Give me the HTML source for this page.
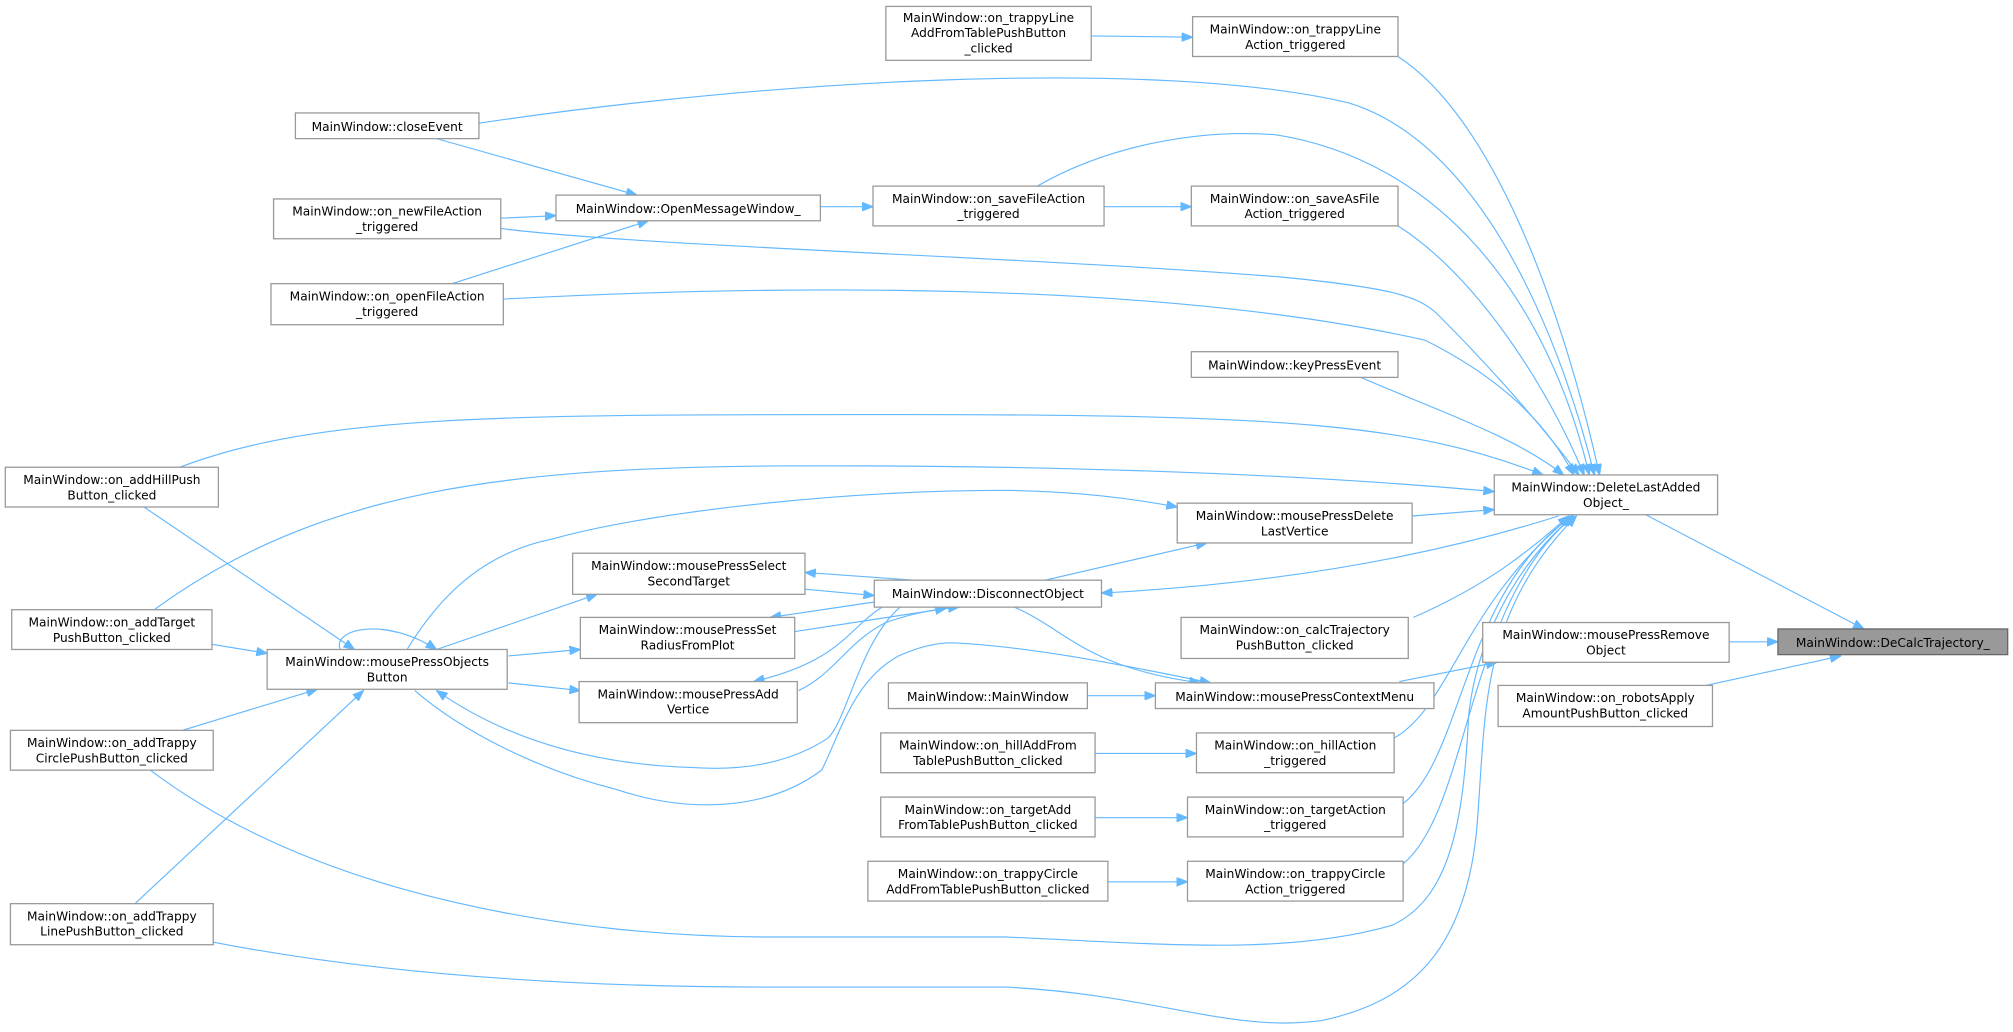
<!DOCTYPE html>
<html><head><meta charset="utf-8"><style>
html,body{margin:0;padding:0;background:#fff;}
svg{display:block;}
text{font-family:"DejaVu Sans","Liberation Sans",sans-serif;font-size:9.5px;fill:#000;text-anchor:middle;}
rect{fill:#fff;stroke:#999;stroke-width:1;}
path{fill:none;stroke:#63b8ff;stroke-width:0.9;}
</style></head><body>
<svg width="2013" height="1032" viewBox="0 0 1568 804" xmlns="http://www.w3.org/2000/svg">
<defs>
<marker id="a" markerWidth="9" markerHeight="7" refX="8.5" refY="3.5" orient="auto" markerUnits="userSpaceOnUse">
<path d="M0,0 L9,3.5 L0,7 Z" style="fill:#63b8ff;stroke:#63b8ff;stroke-width:0.5"/>
</marker>
</defs>
<g marker-end="url(#a)">
<path d="M1089,44 C1160,90 1215,230 1246,370"/>
<path d="M373,96 C600,62 900,45 1050,80 C1150,110 1212,250 1242,370"/>
<path d="M808,145 C860,115 930,100 994,105 C1120,125 1205,230 1238,370"/>
<path d="M1089,176 C1150,215 1205,300 1234,370"/>
<path d="M390,178 C500,192 800,200 1000,216 C1080,224 1105,230 1120,245 C1160,285 1200,330 1230,370"/>
<path d="M392,233 C600,222 900,218 1110,265 C1170,295 1205,330 1226,370"/>
<path d="M1060,294 C1120,320 1180,340 1218,370"/>
<path d="M140,364 C250,322 400,323 700,323 C1000,323 1100,330 1202,370"/>
<path d="M120,475 C250,380 400,365 600,363 C800,362 1000,368 1164,383"/>
<path d="M1100,402 L1164,397"/>
<path d="M1101,481 C1160,455 1190,430 1222,402"/>
<path d="M1086,575 C1130,550 1140,470 1224,402"/>
<path d="M1093,626 C1140,590 1140,460 1225,402"/>
<path d="M1093,673 C1145,630 1142,470 1226,402"/>
<path d="M117,600 C250,700 450,730 600,730 L784,730 C900,735 1000,745 1084,721 C1130,700 1140,640 1144,558 C1150,500 1180,440 1226,402"/>
<path d="M166,734 C300,760 450,769 600,769 L784,769 C900,775 960,805 1030,795 C1100,780 1140,740 1150,650 C1158,560 1150,480 1228,402"/>
<path d="M1282,401 L1452,490"/>
<path d="M1347,500 L1385,500"/>
<path d="M1329,534 L1434,511"/>
<path d="M1090,531 L1166,516"/>
<path d="M1214,402 C1110,435 990,455 858,462"/>
<path d="M814,452 L940,423"/>
<path d="M712,452 L627,446"/>
<path d="M627,459 L681,464"/>
<path d="M681,469 L600,481"/>
<path d="M619,492 L737,474"/>
<path d="M687,473 C660,490 655,515 587,531"/>
<path d="M622,538 C650,525 660,500 690,485 C710,478 725,475 747,473"/>
<path d="M701,473 C670,500 660,560 645,575 C610,598 570,600 540,598 C470,596 400,580 340,538"/>
<path d="M323,538 C360,570 420,600 480,615 C540,635 600,630 640,600 C655,570 665,530 700,511 C720,502 735,500 746,501 C800,504 860,515 943,532"/>
<path d="M790,473 C830,490 845,520 935,532"/>
<path d="M112,395 L276,506"/>
<path d="M165,502 L208,509"/>
<path d="M142,569 L247,537"/>
<path d="M105,704 L283,538"/>
<path d="M265,506 C258,490 300,480 340,506"/>
<path d="M340,506 L465,463"/>
<path d="M396,511 L452,506"/>
<path d="M396,532 L452,538"/>
<path d="M317,506 C345,460 380,430 430,420 C500,400 650,382 784,382 C840,383 880,388 917,395"/>
<path d="M340,108 L496,152"/>
<path d="M390,170 L433,168"/>
<path d="M352,221 L505,172"/>
<path d="M639,161 L680,161"/>
<path d="M860,161 L928,161"/>
<path d="M850,28 L929,29"/>
<path d="M847,542 L900,542"/>
<path d="M853,587 L932,587"/>
<path d="M853,637 L925,637"/>
<path d="M863,687 L925,687"/>
</g>
<rect x="690" y="5" width="160" height="42"/><text x="770" y="17">MainWindow::on_trappyLine</text><text x="770" y="29">AddFromTablePushButton</text><text x="770" y="41">_clicked</text>
<rect x="929" y="13" width="160" height="31"/><text x="1009" y="26">MainWindow::on_trappyLine</text><text x="1009" y="38">Action_triggered</text>
<rect x="230" y="88" width="143" height="20"/><text x="301.5" y="102">MainWindow::closeEvent</text>
<rect x="433" y="152" width="206" height="20"/><text x="536" y="166">MainWindow::OpenMessageWindow_</text>
<rect x="213" y="155" width="177" height="31"/><text x="301.5" y="168">MainWindow::on_newFileAction</text><text x="301.5" y="180">_triggered</text>
<rect x="680" y="145" width="180" height="31"/><text x="770" y="158">MainWindow::on_saveFileAction</text><text x="770" y="170">_triggered</text>
<rect x="928" y="145" width="161" height="31"/><text x="1008.5" y="158">MainWindow::on_saveAsFile</text><text x="1008.5" y="170">Action_triggered</text>
<rect x="211" y="221" width="181" height="32"/><text x="301.5" y="234">MainWindow::on_openFileAction</text><text x="301.5" y="246">_triggered</text>
<rect x="928" y="274" width="161" height="20"/><text x="1008.5" y="288">MainWindow::keyPressEvent</text>
<rect x="1164" y="370" width="174" height="31"/><text x="1251" y="383">MainWindow::DeleteLastAdded</text><text x="1251" y="395">Object_</text>
<rect x="4" y="364" width="166" height="31"/><text x="87" y="377">MainWindow::on_addHillPush</text><text x="87" y="389">Button_clicked</text>
<rect x="917" y="392" width="183" height="31"/><text x="1008.5" y="405">MainWindow::mousePressDelete</text><text x="1008.5" y="417">LastVertice</text>
<rect x="446" y="431" width="181" height="32"/><text x="536.5" y="444">MainWindow::mousePressSelect</text><text x="536.5" y="456">SecondTarget</text>
<rect x="681" y="452" width="177" height="21"/><text x="769.5" y="466">MainWindow::DisconnectObject</text>
<rect x="9" y="475" width="156" height="31"/><text x="87" y="488">MainWindow::on_addTarget</text><text x="87" y="500">PushButton_clicked</text>
<rect x="452" y="481" width="167" height="32"/><text x="535.5" y="494">MainWindow::mousePressSet</text><text x="535.5" y="506">RadiusFromPlot</text>
<rect x="208" y="506" width="187" height="31"/><text x="301.5" y="519">MainWindow::mousePressObjects</text><text x="301.5" y="531">Button</text>
<rect x="451" y="531" width="170" height="32"/><text x="536" y="544">MainWindow::mousePressAdd</text><text x="536" y="556">Vertice</text>
<rect x="920" y="481" width="177" height="32"/><text x="1008.5" y="494">MainWindow::on_calcTrajectory</text><text x="1008.5" y="506">PushButton_clicked</text>
<rect x="1155" y="485" width="192" height="31"/><text x="1251" y="498">MainWindow::mousePressRemove</text><text x="1251" y="510">Object</text>
<rect x="1385" y="490" width="179" height="20" style="fill:#999;stroke:#666"/><text x="1474.5" y="504">MainWindow::DeCalcTrajectory_</text>
<rect x="1167" y="534" width="167" height="32"/><text x="1250.5" y="547">MainWindow::on_robotsApply</text><text x="1250.5" y="559">AmountPushButton_clicked</text>
<rect x="692" y="532" width="155" height="20"/><text x="769.5" y="546">MainWindow::MainWindow</text>
<rect x="900" y="532" width="217" height="20"/><text x="1008.5" y="546">MainWindow::mousePressContextMenu</text>
<rect x="8" y="569" width="158" height="31"/><text x="87" y="582">MainWindow::on_addTrappy</text><text x="87" y="594">CirclePushButton_clicked</text>
<rect x="686" y="571" width="167" height="31"/><text x="769.5" y="584">MainWindow::on_hillAddFrom</text><text x="769.5" y="596">TablePushButton_clicked</text>
<rect x="932" y="571" width="154" height="31"/><text x="1009" y="584">MainWindow::on_hillAction</text><text x="1009" y="596">_triggered</text>
<rect x="686" y="621" width="167" height="31"/><text x="769.5" y="634">MainWindow::on_targetAdd</text><text x="769.5" y="646">FromTablePushButton_clicked</text>
<rect x="925" y="621" width="168" height="31"/><text x="1009" y="634">MainWindow::on_targetAction</text><text x="1009" y="646">_triggered</text>
<rect x="676" y="671" width="187" height="31"/><text x="769.5" y="684">MainWindow::on_trappyCircle</text><text x="769.5" y="696">AddFromTablePushButton_clicked</text>
<rect x="925" y="671" width="168" height="31"/><text x="1009" y="684">MainWindow::on_trappyCircle</text><text x="1009" y="696">Action_triggered</text>
<rect x="8" y="704" width="158" height="32"/><text x="87" y="717">MainWindow::on_addTrappy</text><text x="87" y="729">LinePushButton_clicked</text>
</svg>
</body></html>
